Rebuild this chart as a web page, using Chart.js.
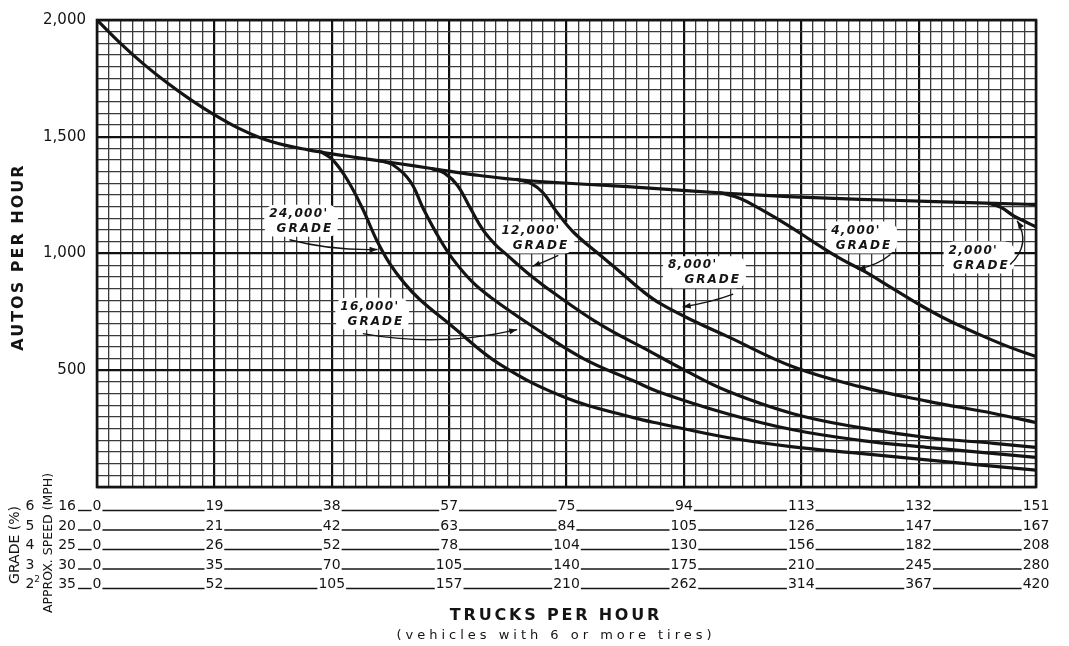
<!DOCTYPE html>
<html>
<head>
<meta charset="utf-8">
<title>Autos per hour vs trucks per hour</title>
<script src="https://cdn.jsdelivr.net/npm/chart.js@4.4.1/dist/chart.umd.min.js"></script>
<style>
  html, body { margin: 0; padding: 0; background: #ffffff; }
  canvas { display: block; }
</style>
</head>
<body>
<canvas id="chart" width="1069" height="646"></canvas>
<script>
// x values are chart divisions: 0..80, a heavy grid line every 10 divisions.
// The truck count that each heavy line stands for depends on grade and speed (table below the grid).

// Common curve (no long grade), autos per hour
const levelX = [0, 2, 4, 6, 8, 10, 12, 14, 16, 18, 20, 22, 24.1, 26.9, 29.8, 32.6, 35.4, 39.4, 45.2, 50.8, 56.5, 62.2, 67.8, 73.6, 79.3, 80];
const levelY = [2000, 1900, 1810, 1730, 1658, 1594, 1538, 1494, 1464, 1444, 1427, 1412, 1397, 1376, 1354, 1334, 1318, 1303, 1286, 1267, 1250, 1237, 1228, 1219, 1211, 1210];

// Branches for each grade length
const grade24000X = [19.1, 20.1, 21.3, 22.6, 23.8, 24.9, 26.2, 27.5, 30.1, 34.3, 40.0, 45.7, 48.0, 53.7, 59.3, 65.0, 70.7, 80];
const grade24000Y = [1435, 1400, 1318, 1195, 1060, 960, 872, 803, 695, 526, 381, 297, 271, 212, 172, 144, 116, 72];

const grade16000X = [24.0, 25.2, 26.7, 27.8, 29.2, 30.3, 32.0, 33.5, 36.9, 41.4, 45.7, 48.0, 53.7, 59.3, 65.0, 70.7, 80];
const grade16000Y = [1398, 1380, 1308, 1192, 1062, 977, 877, 814, 695, 551, 455, 405, 314, 245, 200, 170, 127];

const grade12000X = [28.6, 29.6, 30.7, 31.8, 32.9, 34.0, 34.9, 36.6, 38.8, 42.9, 47.1, 49.7, 53.7, 59.3, 65.0, 70.7, 76.4, 80];
const grade12000Y = [1362, 1344, 1292, 1195, 1100, 1035, 995, 920, 835, 695, 581, 510, 411, 314, 254, 212, 187, 170];

const grade8000X = [35.8, 37.0, 38.0, 39.2, 40.6, 42.6, 44.6, 46.5, 48.0, 50.8, 53.7, 59.3, 65.0, 70.7, 76.4, 80];
const grade8000Y = [1317, 1299, 1260, 1176, 1091, 1004, 920, 838, 785, 712, 645, 515, 430, 368, 315, 276];

const grade4000X = [53.1, 54.8, 56.5, 58.8, 61.0, 63.3, 65.5, 67.6, 69.7, 72.1, 75.0, 77.8, 80];
const grade4000Y = [1260, 1236, 1191, 1123, 1051, 979, 920, 856, 792, 725, 657, 598, 559];

const grade2000X = [76.0, 77.0, 78.1, 79.1, 80];
const grade2000Y = [1214, 1198, 1161, 1136, 1114];

// Table under the grid: grade (%), approx. speed (mph), trucks per hour at each heavy line
const gradePercent = ['6', '5', '4', '3', '2'];
const speedMph = ['16', '20', '25', '30', '35'];
const trucksAt6 = [0, 19, 38, 57, 75, 94, 113, 132, 151];
const trucksAt5 = [0, 21, 42, 63, 84, 105, 126, 147, 167];
const trucksAt4 = [0, 26, 52, 78, 104, 130, 156, 182, 208];
const trucksAt3 = [0, 35, 70, 105, 140, 175, 210, 245, 280];
const trucksAt2 = [0, 52, 105, 157, 210, 262, 314, 367, 420];
const truckRows = [trucksAt6, trucksAt5, trucksAt4, trucksAt3, trucksAt2];

// Y axis labels shown every 500 autos
const yLabelStep = 500;

// Curve callouts: text block anchor and arrow (start, bend, tip) in chart values
const callouts = [
  { lines: ["24,000'", 'GRADE'], at: [17.45, 1140], shift: 6, arrow: [[16.4, 1059], [20.0, 1012], [23.9, 1017]] },
  { lines: ["16,000'", 'GRADE'], at: [23.5, 742],  shift: 6, arrow: [[22.65, 657], [29.2, 597], [35.8, 674]] },
  { lines: ["12,000'", 'GRADE'], at: [37.4, 1068], shift: 10, arrow: [[39.3, 992], [38.4, 970], [37.1, 945]] },
  { lines: ["8,000'", 'GRADE'],  at: [51.6, 920],  shift: 20, arrow: [[54.2, 826], [52.4, 792], [49.9, 771]] },
  { lines: ["4,000'", 'GRADE'],  at: [65.0, 1068], shift: 8, arrow: [[67.6, 996], [66.6, 953], [64.8, 932]] },
  { lines: ["2,000'", 'GRADE'],  at: [75.0, 983],  shift: 8, arrow: [[77.8, 953], [79.6, 1040], [78.4, 1140]] }
];

const INK = '#141414';
const FONT = '"DejaVu Sans", "Liberation Sans", sans-serif';

function points(xs, ys) { return xs.map((x, i) => ({ x: x, y: ys[i] })); }

const series = [
  { label: 'Level', xs: levelX, ys: levelY },
  { label: "24,000' grade", xs: grade24000X, ys: grade24000Y },
  { label: "16,000' grade", xs: grade16000X, ys: grade16000Y },
  { label: "12,000' grade", xs: grade12000X, ys: grade12000Y },
  { label: "8,000' grade", xs: grade8000X, ys: grade8000Y },
  { label: "4,000' grade", xs: grade4000X, ys: grade4000Y },
  { label: "2,000' grade", xs: grade2000X, ys: grade2000Y }
];

function calloutBox(c, co, P) {
  const [cx, cy] = P(co.at);
  c.font = 'italic bold 12px ' + FONT;
  c.letterSpacing = '1.3px';
  const w1 = c.measureText(co.lines[0]).width;
  c.letterSpacing = '2px';
  const w2 = c.measureText(co.lines[1]).width;
  c.letterSpacing = '0px';
  const l1x = cx - co.shift / 2, l2x = cx + co.shift / 2;
  return {
    cx, cy, l1x, l2x,
    left: Math.min(l1x - w1 / 2, l2x - w2 / 2) - 5,
    right: Math.max(l1x + w1 / 2, l2x + w2 / 2) + 5
  };
}

const paper = {
  id: 'paper',
  beforeDraw(chart) {
    const c = chart.ctx;
    c.save();
    c.fillStyle = '#ffffff';
    c.fillRect(0, 0, chart.width, chart.height);
    c.restore();
  },
  beforeDatasetsDraw(chart) {
    // white patches that clear the grid behind the callout lettering
    const c = chart.ctx, sx = chart.scales.x, sy = chart.scales.y;
    const P = p => [sx.getPixelForValue(p[0]), sy.getPixelForValue(p[1])];
    c.save();
    c.fillStyle = '#ffffff';
    callouts.forEach(co => {
      const b = calloutBox(c, co, P);
      c.beginPath();
      c.roundRect(b.left, b.cy - 16, b.right - b.left, 32, 10);
      c.fill();
    });
    c.restore();
  },
  afterDatasetsDraw(chart) {
    const c = chart.ctx, a = chart.chartArea, sx = chart.scales.x, sy = chart.scales.y;
    const P = p => [sx.getPixelForValue(p[0]), sy.getPixelForValue(p[1])];
    c.save();
    // frame
    c.strokeStyle = INK;
    c.lineWidth = 2.6;
    c.strokeRect(a.left, a.top, a.right - a.left, a.bottom - a.top);

    callouts.forEach(co => {
      const b = calloutBox(c, co, P);
      c.font = 'italic bold 12px ' + FONT;
      c.fillStyle = INK;
      c.textAlign = 'center';
      c.textBaseline = 'middle';
      c.letterSpacing = '1.3px';
      c.fillText(co.lines[0], b.l1x, b.cy - 7);
      c.letterSpacing = '2px';
      c.fillText(co.lines[1], b.l2x, b.cy + 8);
      c.letterSpacing = '0px';

      // leader arrow
      const [s, m, e] = co.arrow.map(P);
      c.strokeStyle = INK;
      c.lineWidth = 1.4;
      c.beginPath();
      c.moveTo(s[0], s[1]);
      c.quadraticCurveTo(m[0], m[1], e[0], e[1]);
      c.stroke();
      const ang = Math.atan2(e[1] - m[1], e[0] - m[0]);
      c.beginPath();
      c.moveTo(e[0], e[1]);
      c.lineTo(e[0] - 8 * Math.cos(ang) + 3 * Math.sin(ang), e[1] - 8 * Math.sin(ang) - 3 * Math.cos(ang));
      c.lineTo(e[0] - 8 * Math.cos(ang) - 3 * Math.sin(ang), e[1] - 8 * Math.sin(ang) + 3 * Math.cos(ang));
      c.closePath();
      c.fill();
    });
    c.restore();
  },
  afterDraw(chart) {
    const c = chart.ctx, a = chart.chartArea, sx = chart.scales.x;
    c.save();
    c.fillStyle = INK;
    c.strokeStyle = INK;

    // truck table
    c.font = '14px ' + FONT;
    c.textBaseline = 'alphabetic';
    truckRows.forEach((row, r) => {
      const base = a.bottom + 23 + r * 19.5;
      c.textAlign = 'right';
      c.fillText(speedMph[r], 76, base);
      let prevRight = 77;
      c.lineWidth = 1.4;
      row.forEach((v, i) => {
        const px = sx.getPixelForValue(i * 10);
        const s = String(v);
        const w = c.measureText(s).width;
        const l = px - w / 2;
        c.beginPath();
        c.moveTo(prevRight + 1, base + 0.5);
        c.lineTo(l - 1, base + 0.5);
        c.stroke();
        c.textAlign = 'left';
        c.fillText(s, l, base);
        prevRight = l + w;
      });
      // grade digit
      c.textAlign = 'center';
      c.fillText(gradePercent[r], 30, base);
      if (r === truckRows.length - 1) {
        c.font = '9px ' + FONT;
        c.fillText('2', 37, base - 6);
        c.font = '14px ' + FONT;
      }
    });

    // side captions of the table
    c.textAlign = 'center';
    c.textBaseline = 'middle';
    c.save();
    c.translate(15, 545);
    c.rotate(-Math.PI / 2);
    c.font = '14px ' + FONT;
    c.fillText('GRADE (%)', 0, 0);
    c.restore();
    c.save();
    c.translate(49, 543);
    c.rotate(-Math.PI / 2);
    c.font = '12.5px ' + FONT;
    c.fillText('APPROX. SPEED (MPH)', 0, 0);
    c.restore();

    // axis titles
    c.save();
    c.translate(19, 257);
    c.rotate(-Math.PI / 2);
    c.font = 'bold 16px ' + FONT;
    c.letterSpacing = '2px';
    c.fillText('AUTOS PER HOUR', 0, 0);
    c.restore();

    c.font = 'bold 16px ' + FONT;
    c.letterSpacing = '2.8px';
    c.fillText('TRUCKS PER HOUR', 556, 616);
    c.font = '13px ' + FONT;
    c.letterSpacing = '4px';
    c.fillText('(vehicles with 6 or more tires)', 556, 636);
    c.restore();
  }
};

const minorGrid = '#3a3a3a', majorGrid = '#111111';

new Chart(document.getElementById('chart'), {
  type: 'line',
  data: {
    datasets: series.map(s => ({
      label: s.label,
      data: points(s.xs, s.ys),
      borderColor: INK,
      borderWidth: 3.2,
      pointRadius: 0,
      fill: false,
      tension: 0.4,
      borderCapStyle: 'round',
      borderJoinStyle: 'round'
    }))
  },
  options: {
    responsive: false,
    animation: false,
    devicePixelRatio: 1,
    layout: { padding: { top: 15, right: 33, left: 0, bottom: 0 } },
    plugins: { legend: { display: false }, tooltip: { enabled: false } },
    scales: {
      x: {
        type: 'linear',
        min: 0,
        max: 80,
        ticks: { display: false, stepSize: 1 },
        grid: {
          drawTicks: false,
          color: ctx => (ctx.tick && ctx.tick.value % 10 === 0) ? majorGrid : minorGrid,
          lineWidth: ctx => (ctx.tick && ctx.tick.value % 10 === 0) ? 2.2 : 1.3
        },
        border: { display: false },
        afterFit(scale) { scale.height = 159; }
      },
      y: {
        type: 'linear',
        min: 0,
        max: 2000,
        ticks: {
          stepSize: 50,
          autoSkip: false,
          padding: 11,
          color: INK,
          font: { family: 'DejaVu Sans', size: 15 },
          callback: v => (v > 0 && v % yLabelStep === 0) ? v.toLocaleString('en-US') : ''
        },
        grid: {
          drawTicks: false,
          color: ctx => (ctx.tick && ctx.tick.value % yLabelStep === 0) ? majorGrid : minorGrid,
          lineWidth: ctx => (ctx.tick && ctx.tick.value % yLabelStep === 0) ? 2.2 : 1.3
        },
        border: { display: false },
        afterFit(scale) { scale.width = 97; }
      }
    }
  },
  plugins: [paper]
});
</script>
</body>
</html>
